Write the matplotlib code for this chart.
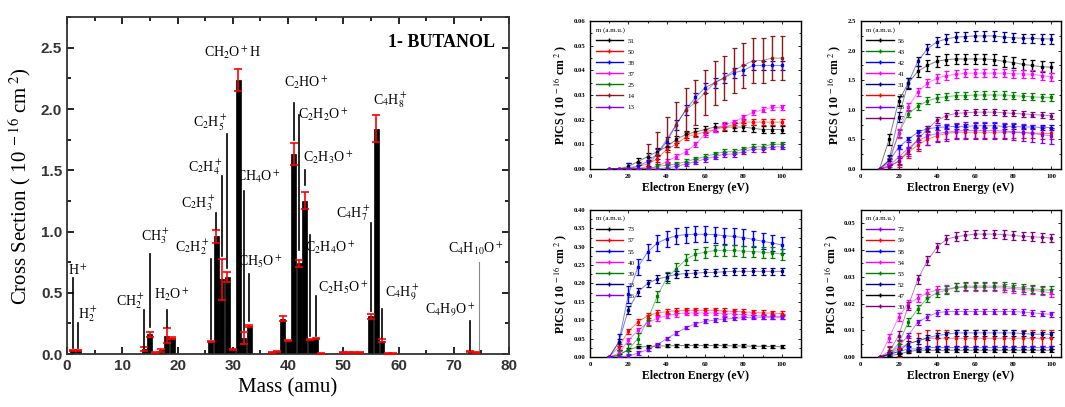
import numpy as np
import matplotlib
matplotlib.use("Agg")
import matplotlib.pyplot as plt
from matplotlib.ticker import MultipleLocator

plt.rcParams['font.family'] = ['Liberation Serif', 'DejaVu Serif']
plt.rcParams['mathtext.fontset'] = 'stix'

# ---------------- left panel data ----------------
masses = [1, 2, 14, 15, 16, 17, 18, 19, 26, 27, 28, 29, 30, 31, 32, 33,
          37, 38, 39, 40, 41, 42, 43, 44, 45, 46, 50, 51, 52, 53, 55, 56, 57, 58, 59, 73, 74]
cross = [0.03, 0.03, 0.04, 0.16, 0.01, 0.03, 0.15, 0.13, 0.10, 0.96, 0.61, 0.63, 0.04, 2.24, 0.13, 0.23,
         0.01, 0.02, 0.29, 0.11, 1.63, 0.74, 1.25, 0.12, 0.13, 0.005, 0.01, 0.01, 0.01, 0.01,
         0.31, 1.84, 0.11, 0.005, 0.005, 0.02, 0.01]
cross_err = [0.005, 0.005, 0.015, 0.02, 0.005, 0.01, 0.06, 0.01, 0.005, 0.05, 0.17, 0.04, 0.005, 0.09,
             0.05, 0.01, 0.003, 0.005, 0.02, 0.005, 0.09, 0.03, 0.07, 0.005, 0.005, 0.002, 0.003,
             0.003, 0.003, 0.003, 0.02, 0.11, 0.01, 0.002, 0.002, 0.005, 0.003]

ion_labels = [r'H$^+$', r'H$_2^+$', r'CH$_2^+$', r'CH$_3^+$', r'H$_2$O$^+$', r'C$_2$H$_2^+$',
              r'C$_2$H$_3^+$', r'C$_2$H$_4^+$', r'C$_2$H$_5^+$', r'CH$_2$O$^+$H', r'CH$_4$O$^+$',
              r'CH$_5$O$^+$', r'C$_2$HO$^+$', r'C$_2$H$_2$O$^+$', r'C$_2$H$_3$O$^+$', r'C$_2$H$_4$O$^+$',
              r'C$_2$H$_5$O$^+$', r'C$_4$H$_7^+$', r'C$_4$H$_8^+$', r'C$_4$H$_9^+$', r'C$_4$H$_9$O$^+$',
              r'C$_4$H$_{10}$O$^+$']
label_x = [2.0, 3.8, 11.4, 16.0, 19.0, 22.6, 23.7, 25.0, 26.0, 30.0, 34.6, 35.0, 43.4, 46.4, 47.3,
           47.6, 50.0, 51.8, 58.5, 60.7, 69.4, 73.9]
label_y = [0.68, 0.33, 0.43, 0.96, 0.48, 0.87, 1.23, 1.53, 1.89, 2.46, 1.45, 0.75, 2.21, 1.95, 1.60,
           0.87, 0.54, 1.15, 2.07, 0.50, 0.36, 0.86]
line_x = [1, 2, 14, 15, 18, 26, 27, 28, 29, None, 32, 33, 41, 42, 43, 44, 45, 55, None, 57, 73, 74.5]
line_y0 = [0.05, 0.05, 0.05, 0.22, 0.22, 0.12, 1.02, 0.80, 0.70, None, 0.20, 0.27, 1.75, 0.85, 1.38,
           0.15, 0.15, 0.35, None, 0.13, 0.03, 0.03]
line_y1 = [0.62, 0.25, 0.36, 0.82, 0.36, 0.78, 1.15, 1.45, 1.80, None, 1.33, 0.65, 2.05, 1.95, 1.50,
           0.97, 0.47, 1.07, None, 0.37, 0.27, 0.75]

# ---------------- right panels data ----------------
energy = [10, 15, 20, 25, 30, 35, 40, 45, 50, 55, 60, 65, 70, 75, 80, 85, 90, 95, 100]

tl_masses = ['51', '50', '38', '37', '25', '14', '13']
tl_values = [
    [0, 0, 0.001, 0.003, 0.005, 0.007, 0.009, 0.012, 0.014, 0.015, 0.016, 0.017, 0.017, 0.017, 0.017, 0.0165, 0.016, 0.016, 0.016],
    [0, 0, 0, 0.001, 0.002, 0.004, 0.008, 0.010, 0.013, 0.014, 0.015, 0.016, 0.017, 0.018, 0.019, 0.019, 0.019, 0.019, 0.019],
    [0, 0, 0.0005, 0.001, 0.003, 0.006, 0.011, 0.018, 0.024, 0.029, 0.033, 0.035, 0.037, 0.039, 0.040, 0.042, 0.042, 0.042, 0.042],
    [0, 0, 0, 0, 0, 0.001, 0.003, 0.005, 0.007, 0.010, 0.014, 0.016, 0.018, 0.019, 0.021, 0.023, 0.024, 0.025, 0.025],
    [0, 0, 0, 0, 0, 0.001, 0.0015, 0.002, 0.003, 0.004, 0.005, 0.006, 0.007, 0.007, 0.008, 0.009, 0.009, 0.010, 0.010],
    [0, 0, 0, 0, 0.001, 0.006, 0.012, 0.018, 0.024, 0.027, 0.031, 0.035, 0.037, 0.040, 0.042, 0.044, 0.044, 0.045, 0.045],
    [0, 0, 0, 0, 0, 0, 0.0005, 0.001, 0.002, 0.003, 0.004, 0.005, 0.006, 0.006, 0.007, 0.008, 0.008, 0.009, 0.009],
]
tl_errors = [0.0015, 0.0012, 0.002, 0.001, 0.001, 0.009, 0.001]

tr_masses = ['56', '43', '42', '41', '31', '29', '28', '27']
tr_values = [
    [0, 0.50, 1.15, 1.45, 1.65, 1.75, 1.82, 1.85, 1.86, 1.86, 1.86, 1.86, 1.85, 1.82, 1.80, 1.77, 1.75, 1.73, 1.72],
    [0, 0.15, 0.60, 0.93, 1.06, 1.15, 1.20, 1.22, 1.24, 1.24, 1.25, 1.25, 1.25, 1.25, 1.24, 1.23, 1.22, 1.21, 1.21],
    [0, 0.13, 0.37, 0.50, 0.62, 0.68, 0.70, 0.71, 0.72, 0.72, 0.73, 0.73, 0.73, 0.72, 0.72, 0.71, 0.71, 0.70, 0.70],
    [0, 0.10, 0.60, 1.05, 1.30, 1.45, 1.53, 1.58, 1.60, 1.62, 1.62, 1.62, 1.62, 1.62, 1.61, 1.61, 1.60, 1.58, 1.56],
    [0, 0.15, 0.88, 1.45, 1.82, 2.03, 2.15, 2.20, 2.23, 2.24, 2.25, 2.25, 2.25, 2.23, 2.22, 2.21, 2.21, 2.20, 2.20],
    [0, 0.05, 0.13, 0.28, 0.40, 0.50, 0.56, 0.60, 0.62, 0.62, 0.62, 0.62, 0.62, 0.62, 0.62, 0.61, 0.61, 0.60, 0.60],
    [0, 0.05, 0.20, 0.35, 0.48, 0.55, 0.60, 0.62, 0.64, 0.65, 0.65, 0.65, 0.65, 0.64, 0.63, 0.62, 0.60, 0.58, 0.56],
    [0, 0.03, 0.13, 0.30, 0.50, 0.67, 0.82, 0.90, 0.94, 0.95, 0.96, 0.96, 0.96, 0.95, 0.94, 0.93, 0.92, 0.91, 0.90],
]
tr_errors = [0.09, 0.06, 0.04, 0.07, 0.08, 0.09, 0.14, 0.05]

bl_masses = ['73', '57', '55', '40', '39', '33', '26']
bl_values = [
    [0, 0.005, 0.020, 0.027, 0.028, 0.030, 0.030, 0.031, 0.031, 0.031, 0.031, 0.031, 0.031, 0.030, 0.030, 0.029, 0.029, 0.028, 0.028],
    [0, 0.027, 0.070, 0.095, 0.112, 0.120, 0.123, 0.126, 0.127, 0.127, 0.127, 0.127, 0.125, 0.124, 0.123, 0.121, 0.120, 0.119, 0.118],
    [0, 0.040, 0.170, 0.245, 0.285, 0.310, 0.322, 0.330, 0.333, 0.334, 0.334, 0.333, 0.330, 0.328, 0.325, 0.320, 0.315, 0.310, 0.305],
    [0, 0.010, 0.045, 0.072, 0.093, 0.105, 0.112, 0.117, 0.120, 0.120, 0.120, 0.120, 0.118, 0.117, 0.115, 0.113, 0.111, 0.110, 0.110],
    [0, 0.005, 0.020, 0.050, 0.100, 0.165, 0.215, 0.240, 0.265, 0.280, 0.285, 0.290, 0.290, 0.290, 0.288, 0.287, 0.285, 0.283, 0.280],
    [0, 0.040, 0.128, 0.177, 0.200, 0.212, 0.218, 0.225, 0.227, 0.228, 0.230, 0.230, 0.232, 0.233, 0.233, 0.233, 0.233, 0.233, 0.233],
    [0, 0, 0.003, 0.010, 0.020, 0.033, 0.050, 0.065, 0.080, 0.090, 0.097, 0.100, 0.103, 0.105, 0.107, 0.108, 0.108, 0.108, 0.108],
]
bl_errors = [0.004, 0.007, 0.022, 0.007, 0.015, 0.010, 0.005]

br_masses = ['72', '59', '58', '54', '53', '52', '47', '30']
br_values = [
    [0, 0.001, 0.004, 0.008, 0.013, 0.015, 0.0165, 0.017, 0.017, 0.017, 0.017, 0.017, 0.017, 0.017, 0.017, 0.0168, 0.0165, 0.0162, 0.016],
    [0, 0.001, 0.003, 0.005, 0.006, 0.007, 0.007, 0.007, 0.007, 0.007, 0.007, 0.007, 0.007, 0.007, 0.007, 0.007, 0.007, 0.007, 0.007],
    [0, 0.001, 0.002, 0.003, 0.003, 0.0035, 0.0035, 0.0035, 0.0035, 0.0035, 0.0035, 0.0035, 0.0035, 0.0035, 0.0035, 0.0035, 0.0035, 0.0035, 0.0035],
    [0, 0.007, 0.015, 0.020, 0.022, 0.024, 0.025, 0.0255, 0.026, 0.026, 0.026, 0.026, 0.026, 0.0258, 0.0255, 0.0252, 0.025, 0.0245, 0.024],
    [0, 0.001, 0.005, 0.013, 0.018, 0.022, 0.024, 0.025, 0.026, 0.0265, 0.0265, 0.0265, 0.0265, 0.0265, 0.026, 0.0258, 0.0255, 0.0252, 0.025],
    [0, 0.001, 0.002, 0.005, 0.006, 0.0072, 0.008, 0.0085, 0.009, 0.009, 0.009, 0.009, 0.009, 0.009, 0.009, 0.0088, 0.0085, 0.0085, 0.0085],
    [0, 0.0005, 0.001, 0.002, 0.0025, 0.0025, 0.0025, 0.0025, 0.0025, 0.0025, 0.0025, 0.0025, 0.0025, 0.0025, 0.0025, 0.0025, 0.0025, 0.0025, 0.0025],
    [0, 0.002, 0.008, 0.019, 0.029, 0.036, 0.041, 0.044, 0.045, 0.0455, 0.046, 0.046, 0.046, 0.0458, 0.0455, 0.0452, 0.045, 0.0448, 0.0445],
]
br_errors = [0.001, 0.003, 0.0006, 0.0015, 0.0015, 0.001, 0.0005, 0.0016]

C_BLACK, C_RED, C_BLUE, C_MAG, C_GREEN = 'black', '#ff0000', '#0000ff', '#ff00ff', '#008000'
C_DRED, C_VIO, C_NAVY, C_PURP = '#8b1a1a', '#8000ff', '#000080', '#800080'
tl_colors = [C_BLACK, C_RED, C_BLUE, C_MAG, C_GREEN, C_DRED, C_VIO]
tr_colors = [C_BLACK, C_GREEN, C_BLUE, C_MAG, C_NAVY, C_RED, C_VIO, C_PURP]
bl_colors = [C_BLACK, C_RED, C_BLUE, C_MAG, C_GREEN, C_NAVY, C_VIO]
br_colors = [C_VIO, C_RED, C_BLUE, C_MAG, C_GREEN, C_NAVY, C_BLACK, C_PURP]

fig = plt.figure(figsize=(10.65, 4.07), dpi=100)

# ---------------- left panel ----------------
ax = fig.add_axes([0.063, 0.130, 0.415, 0.828])
ax.bar(masses, cross, width=0.9, color='black', edgecolor='black', linewidth=0.5, zorder=2)
ax.errorbar(masses, cross, yerr=cross_err, fmt='none', ecolor='red', elinewidth=1.2,
            capsize=3, capthick=1.2, zorder=3)
for t, tx, ty, lx, ly0, ly1 in zip(ion_labels, label_x, label_y, line_x, line_y0, line_y1):
    ax.text(tx, ty, t, ha='center', va='center', fontsize=10, color='black', zorder=4)
    if lx is not None:
        col = '#888888' if lx == 74.5 else 'black'
        lw = 0.8 if lx == 74.5 else 1.2
        ax.plot([lx, lx], [ly0, ly1], color=col, lw=lw, zorder=4)
ax.text(77.5, 2.54, '1- BUTANOL', ha='right', va='center', fontsize=13, fontweight='bold')
ax.set_xlim(0, 80)
ax.set_ylim(0, 2.75)
ax.xaxis.set_major_locator(MultipleLocator(10))
ax.xaxis.set_minor_locator(MultipleLocator(5))
ax.yaxis.set_major_locator(MultipleLocator(0.5))
ax.yaxis.set_minor_locator(MultipleLocator(0.25))
ax.tick_params(which='both', direction='in', top=True, right=True, width=1.2)
ax.tick_params(which='major', length=5, labelsize=11)
ax.tick_params(which='minor', length=3)
for lab in ax.get_xticklabels() + ax.get_yticklabels():
    lab.set_fontfamily('Liberation Sans')
    lab.set_fontweight('bold')
    lab.set_color('#333333')
ax.set_xlabel('Mass (amu)', fontsize=15, labelpad=4)
ax.set_ylabel(r'Cross Section ( 10$^{\ -16}$ cm$^{\ 2}$)', fontsize=15, labelpad=6)
for s in ax.spines.values():
    s.set_linewidth(1.3)
    s.set_color('#333333')


def small_panel(rect, values, errors, names, colors, ylim, ymaj, xlim):
    a = fig.add_axes(rect)
    for v, e, n, c in zip(values, errors, names, colors):
        v = np.array(v)
        err = np.where(v > 0, e, 0)
        a.plot(energy, v, color=c, lw=0.7, alpha=0.5, zorder=2)
        a.errorbar(energy, v, yerr=err, fmt='s', ms=1.5, color=c, ecolor=c, elinewidth=1.0,
                   capsize=1.8, capthick=0.9, lw=0, zorder=3, label=n)
    handles = [plt.Line2D([0], [0], color=c, lw=1.0, marker='+', ms=3) for c in colors]
    leg = a.legend(handles, names, title='m (a.m.u.)', loc='upper left', frameon=False,
                   fontsize=5, title_fontsize=5, handlelength=4.0, labelspacing=0.75,
                   borderaxespad=0.4, handletextpad=0.6)
    leg._legend_box.align = 'left'
    a.set_xlim(*xlim)
    a.set_ylim(*ylim)
    a.xaxis.set_major_locator(MultipleLocator(20))
    a.xaxis.set_minor_locator(MultipleLocator(10))
    a.yaxis.set_major_locator(MultipleLocator(ymaj))
    a.yaxis.set_minor_locator(MultipleLocator(ymaj / 2))
    a.tick_params(which='both', direction='in', top=True, right=True, labelsize=4.8, width=0.6)
    a.tick_params(which='major', length=2.5)
    a.tick_params(which='minor', length=1.5)
    for lab in a.get_xticklabels() + a.get_yticklabels():
        lab.set_fontweight('bold')
    a.set_xlabel('Electron Energy (eV)', fontsize=8.5, fontweight='bold', labelpad=2)
    a.set_ylabel(r'PICS ( 10$^{\ -16}$ cm$^{\ 2}$ )', fontsize=8.5, fontweight='bold', labelpad=3)
    for s in a.spines.values():
        s.set_linewidth(1.0)
    return a


small_panel([0.554, 0.585, 0.198, 0.363], tl_values, tl_errors, tl_masses, tl_colors,
            (0, 0.06), 0.01, (0, 110))
small_panel([0.808, 0.585, 0.188, 0.363], tr_values, tr_errors, tr_masses, tr_colors,
            (0, 2.5), 0.5, (0, 105))
small_panel([0.554, 0.123, 0.198, 0.361], bl_values, bl_errors, bl_masses, bl_colors,
            (0, 0.40), 0.05, (0, 110))
small_panel([0.808, 0.123, 0.188, 0.361], br_values, br_errors, br_masses, br_colors,
            (0, 0.055), 0.01, (0, 105))

fig.savefig('out.png', dpi=100)
